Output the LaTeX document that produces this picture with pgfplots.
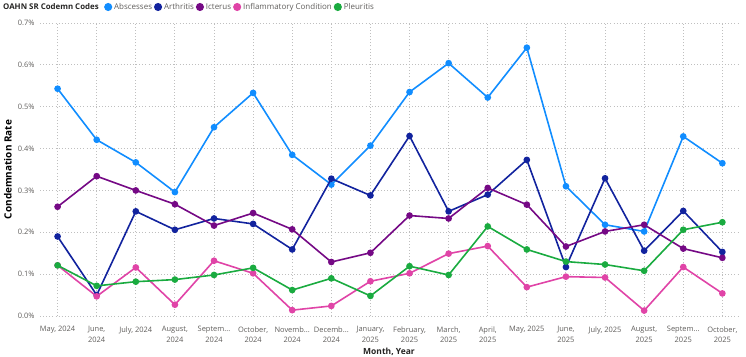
\documentclass[border=0pt]{standalone}
\usepackage{pgfplots}
\pgfplotsset{compat=1.18}
\usepackage{fontspec}
\setmainfont{Open Sans}
\definecolor{cAbs}{HTML}{118DFF}
\definecolor{cArt}{HTML}{12239E}
\definecolor{cIct}{HTML}{750985}
\definecolor{cInf}{HTML}{E044A7}
\definecolor{cPle}{HTML}{1AAB40}
\definecolor{tgray}{HTML}{605E5C}
\definecolor{tdark}{HTML}{252423}
\definecolor{grid}{HTML}{D9D9D9}
\newcommand{\dd}{.{}.{}.}
\pgfplotstableread{
x abs art ict inf ple
0 0.543 0.190 0.261 0.121 0.121
1 0.421 0.050 0.334 0.047 0.072
2 0.367 0.250 0.300 0.116 0.082
3 0.296 0.206 0.267 0.027 0.087
4 0.451 0.233 0.216 0.132 0.098
5 0.533 0.220 0.246 0.102 0.115
6 0.385 0.159 0.207 0.014 0.062
7 0.314 0.328 0.129 0.024 0.090
8 0.407 0.288 0.151 0.083 0.048
9 0.535 0.430 0.240 0.102 0.119
10 0.604 0.250 0.233 0.149 0.098
11 0.522 0.290 0.306 0.167 0.214
12 0.641 0.373 0.266 0.069 0.159
13 0.310 0.117 0.166 0.094 0.130
14 0.218 0.329 0.202 0.092 0.123
15 0.202 0.156 0.218 0.013 0.108
16 0.429 0.251 0.161 0.117 0.206
17 0.365 0.153 0.139 0.054 0.224
}\data
\begin{document}
\begin{tikzpicture}
\path[use as bounding box] (-40bp,-41bp) rectangle (706bp,316bp);
\begin{axis}[
  at={(0,0)}, anchor=south west,
  scale only axis, width=698bp, height=293bp,
  xmin=-0.45, xmax=17.4, ymin=0, ymax=0.7,
  clip mode=individual,
  axis line style={draw=none},
  ytick={0,0.1,0.2,0.3,0.4,0.5,0.6,0.7},
  yticklabel={\pgfmathprintnumber[fixed,fixed zerofill,precision=1]{\tick}\%},
  /pgf/number format/assume math mode=true,
  ymajorgrids,
  grid style={grid, line width=0.9bp, dash pattern=on 0.9bp off 2.2bp},
  major tick length=0,
  yticklabel style={font=\fontsize{7.5}{9}\selectfont, text=tgray, xshift=-2bp},
  xtick={0,1,2,3,4,5,6,7,8,9,10,11,12,13,14,15,16,17},
  xticklabels={{May, 2024},{June,\\2024},{July, 2024},{August,\\2024},{Septem\dd\\2024},{October,\\2024},{Novemb\dd\\2024},{Decemb\dd\\2024},{January,\\2025},{February,\\2025},{March,\\2025},{April,\\2025},{May, 2025},{June,\\2025},{July, 2025},{August,\\2025},{Septem\dd\\2025},{October,\\2025}},
  xticklabel style={font=\fontsize{7.5}{10.5}\selectfont, text=tgray, align=center, anchor=north, yshift=-7bp},
  ylabel={\bfseries Condemnation Rate},
  ylabel style={font=\fontsize{8.5}{10}\selectfont, text=tdark},
  every axis y label/.style={at={([xshift=-32bp]axis description cs:0,0.5)}, rotate=90, anchor=center},
  xlabel={\bfseries Month, Year},
  every axis x label/.style={at={([yshift=-35.5bp]axis description cs:0.5,0)}, anchor=center},
  xlabel style={font=\fontsize{8.5}{10}\selectfont, text=tdark},
  legend columns=-1,
  legend style={draw=none, fill=none, at={(axis description cs:0,1)}, anchor=west, xshift=64bp, yshift=16bp,
    font=\fontsize{8}{10}\selectfont, text=tgray, inner sep=0pt,
    /tikz/every even column/.append style={column sep=0bp}},
  legend image code/.code={\fill (0.1cm,0cm) circle (3.2bp);},
  every axis plot/.append style={line width=1.6bp, mark=*, mark size=2.5bp},
]
\addplot[color=cAbs] table[x=x,y=abs]{\data};
\addlegendentry{Abscesses}
\addplot[color=cArt] table[x=x,y=art]{\data};
\addlegendentry{Arthritis}
\addplot[color=cIct] table[x=x,y=ict]{\data};
\addlegendentry{Icterus}
\addplot[color=cInf] table[x=x,y=inf]{\data};
\addlegendentry{Inflammatory Condition}
\addplot[color=cPle] table[x=x,y=ple]{\data};
\addlegendentry{Pleuritis}
\node[anchor=west, font=\fontsize{7.9}{10}\selectfont\bfseries, text=tdark, inner sep=0pt] at ([xshift=-37bp,yshift=16bp]rel axis cs:0,1) {OAHN SR Codemn Codes};
\end{axis}
\end{tikzpicture}
\end{document}
